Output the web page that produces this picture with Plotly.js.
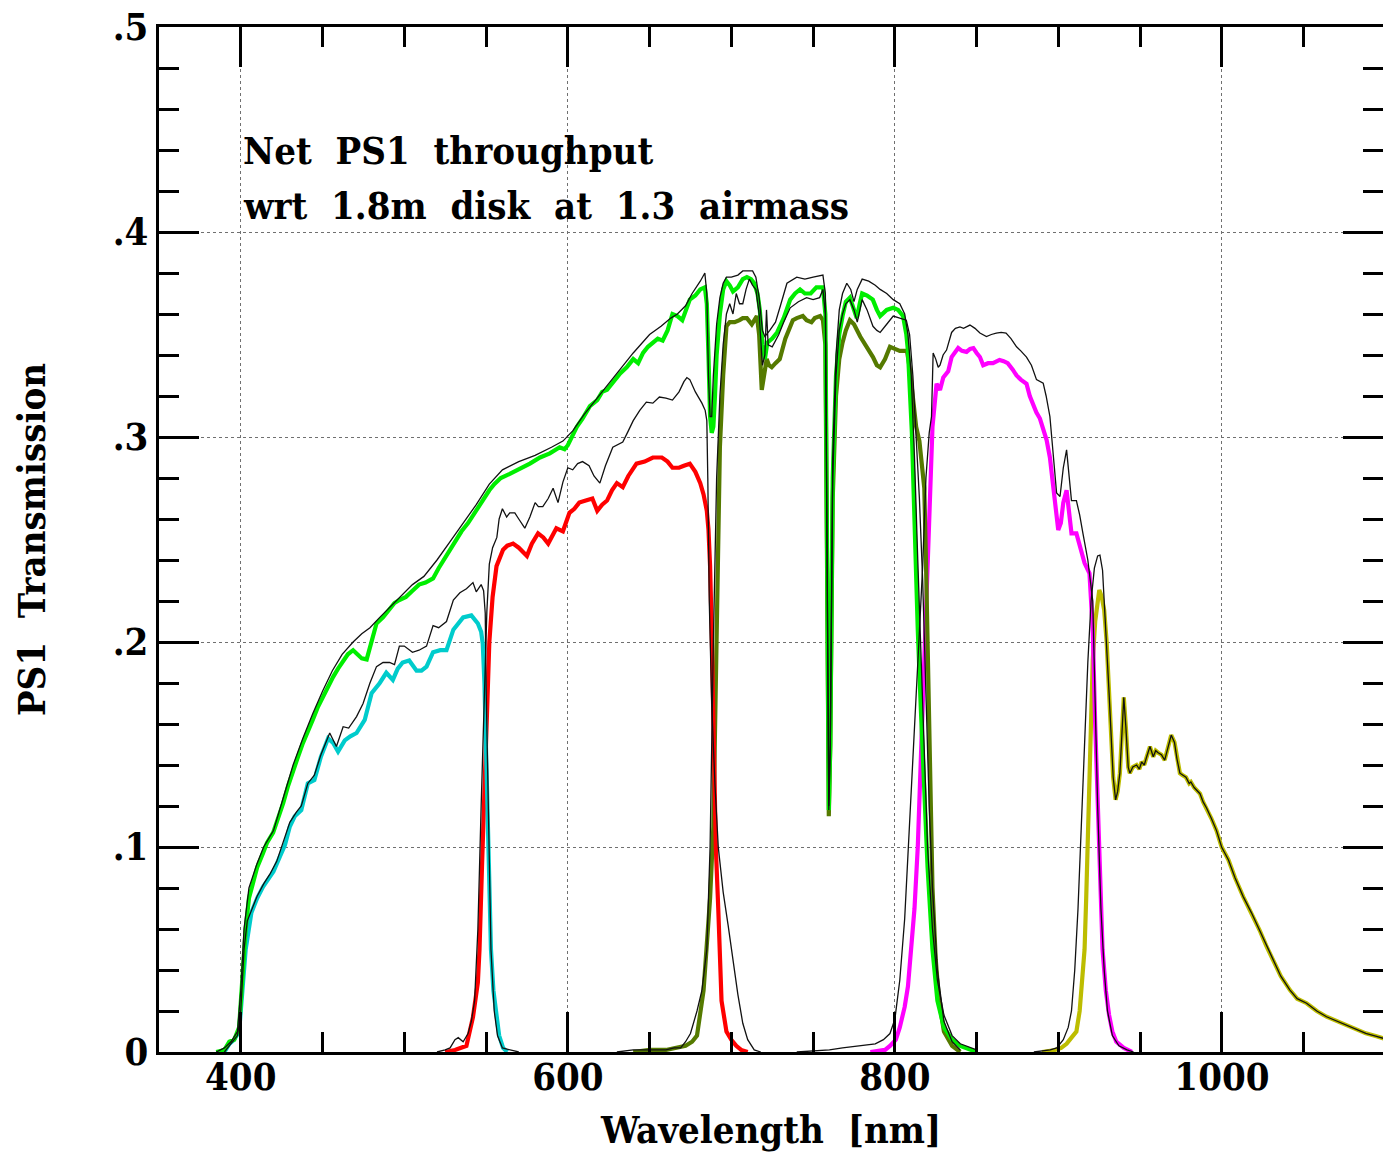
<!DOCTYPE html>
<html>
<head>
<meta charset="utf-8">
<script src="https://cdn.plot.ly/plotly-3.0.1.min.js"></script>
<style>html,body{margin:0;padding:0;background:#fff;overflow:hidden}</style>
</head>
<body>
<div id="chart" style="width:1383px;height:1152px"></div>
<script>
// ---- w band (green) ----
const wl_w = [385,390,393,396,399,401,403,405,407.5,410,413.6,416,419.8,423,426,429,432,435,438,441,444,447,450,453,456.5,459.5,462.6,465.5,468.7,471,474,477,480,483,487,491,494,497,501,505,509,513,517.6,521,524,527.8,531,535,539,543,546,550,552,555,559,564.5,570,576.8,583,589,595,598,600,605.5,609,613.5,618,621,624,628,632,636,640,643,646,649,652,655,658,661,664,667,670,672,674.6,678,681,683.8,685,686,687,688,689,690,691,693,695,697,699,701,704,707,709.5,712,714,716,717.4,719,720.5,722,725,728,732,736,739,742,745,748.5,752,756,757.5,758.5,759.6,760.5,762,764,766,768,770,772.5,774.5,776.7,778.5,780,783,786.5,789,791,795,799,802,805,807,808,810.4,812,814,816,818,820,823,826,830,835,840,850];
const t_w = [0,0.001,0.005,0.006,0.012,0.035,0.06,0.075,0.082,0.09,0.097,0.102,0.107,0.114,0.1215,0.13,0.1376,0.144,0.1507,0.156,0.162,0.168,0.173,0.178,0.183,0.187,0.191,0.194,0.196,0.194,0.192,0.1915,0.2,0.209,0.212,0.216,0.219,0.2205,0.222,0.225,0.228,0.229,0.231,0.236,0.24,0.245,0.249,0.254,0.258,0.263,0.267,0.272,0.274,0.277,0.28,0.282,0.284,0.287,0.29,0.292,0.295,0.294,0.296,0.305,0.309,0.315,0.318,0.322,0.323,0.327,0.331,0.334,0.338,0.336,0.341,0.344,0.346,0.348,0.347,0.352,0.36,0.359,0.357,0.362,0.367,0.369,0.372,0.373,0.365,0.34,0.31,0.302,0.305,0.32,0.34,0.36,0.372,0.376,0.374,0.371,0.373,0.377,0.378,0.377,0.375,0.37,0.362,0.345,0.338,0.346,0.348,0.351,0.358,0.367,0.37,0.372,0.37,0.37,0.373,0.373,0.36,0.25,0.118,0.15,0.28,0.33,0.35,0.359,0.366,0.368,0.363,0.358,0.365,0.37,0.369,0.367,0.362,0.359,0.362,0.363,0.362,0.359,0.35,0.342,0.302,0.253,0.206,0.165,0.125,0.09,0.05,0.025,0.012,0.006,0.003,0];
const wl_wBlk = [385,390,394,398,400,402,405,410,414,420,426,432,438,444,450,456,462,468.7,474,479,485,490,497,505,512,520,528,536,544,552,560,570,580,590,597,603,610,620,630,640,650,657,663,667,672,676,681,683.8,685,686,687,688,689,691,693,695,697,700,704,707,710,713,715,717,719,720.5,723.5,727,730,734,740,745,750,756,757.5,758.5,759.6,760.5,762,764,766,768,770.6,773,775,777,780,784,788,791,795,799,803,806,808,810,812,814,816,818,820,823,826,830,835,840,850];
const t_wBlk = [0,0.002,0.005,0.01,0.03,0.06,0.08,0.092,0.1,0.108,0.124,0.14,0.153,0.165,0.176,0.186,0.194,0.2,0.204,0.207,0.212,0.216,0.222,0.228,0.232,0.24,0.249,0.258,0.267,0.277,0.284,0.288,0.291,0.295,0.298,0.303,0.311,0.321,0.331,0.341,0.35,0.354,0.358,0.36,0.364,0.37,0.376,0.38,0.37,0.33,0.31,0.31,0.33,0.355,0.368,0.375,0.378,0.378,0.379,0.381,0.381,0.381,0.378,0.368,0.352,0.349,0.352,0.356,0.364,0.375,0.378,0.377,0.378,0.379,0.37,0.25,0.12,0.15,0.29,0.34,0.362,0.37,0.375,0.372,0.366,0.372,0.377,0.376,0.374,0.372,0.37,0.367,0.365,0.36,0.35,0.33,0.29,0.24,0.19,0.14,0.1,0.06,0.035,0.018,0.008,0.004,0.001];

// ---- g band (cyan) ----
const wl_g = [390,393,396,399,401,403,406.5,410,413.6,417,420,423.9,427,430,433,437,441,445,449,453.4,456.5,459.5,463.6,467,470.8,475.8,480,485,489,493,496,499,503,507.5,510.5,513.6,517.6,522,525.8,530,533,536,541,545,547,548,549,550,551,552,553,554.5,556.4,558,560.4,563];
const t_g = [0,0.004,0.006,0.01,0.03,0.05,0.068,0.075,0.0806,0.085,0.088,0.0953,0.101,0.11,0.115,0.118,0.131,0.1327,0.144,0.153,0.1507,0.1465,0.152,0.154,0.1556,0.162,0.175,0.18,0.185,0.1815,0.187,0.19,0.191,0.186,0.186,0.188,0.195,0.196,0.196,0.206,0.209,0.212,0.213,0.209,0.205,0.199,0.18,0.15,0.11,0.075,0.05,0.03,0.017,0.008,0.002,0];
const wl_gBlk = [390,394,398,400,402,404,407,410,414,418,422,426,430,434,437,441,445,449,454.4,458.5,462.6,466,470.8,474.8,479,483,487,491,494,497,500,505,509,513.6,517.6,521,525.8,530,534,538,542,544,547,548.5,549.5,550,551,552,553,555,557,560,570];
const t_gBlk = [0,0.004,0.008,0.02,0.05,0.064,0.07,0.076,0.082,0.087,0.093,0.102,0.112,0.117,0.12,0.131,0.135,0.145,0.1556,0.149,0.1587,0.158,0.1636,0.17,0.18,0.188,0.19,0.19,0.189,0.198,0.198,0.195,0.196,0.198,0.208,0.207,0.21,0.2205,0.224,0.226,0.229,0.2245,0.228,0.225,0.214,0.18,0.13,0.08,0.05,0.02,0.008,0.002,0];

// ---- r band (red) ----
const wl_r = [525,531,538,542,545,546,547.5,549,550.5,552,554,556.4,560.4,563,566.5,570,575,578,581.8,585,588,590.5,593,597,601,604,607,611,615,618,621,624,627,630,633.6,637,642,647,652,657.5,661,664,668,671,674.6,678,681,683,685,686,687,688,689,690.5,692,694,697,700,703,706,710];
const t_r = [0,0.001,0.003,0.017,0.034,0.05,0.09,0.13,0.17,0.2,0.222,0.237,0.245,0.247,0.248,0.246,0.242,0.248,0.253,0.251,0.248,0.252,0.2555,0.254,0.263,0.265,0.268,0.269,0.27,0.264,0.267,0.269,0.274,0.2775,0.2755,0.281,0.287,0.288,0.29,0.29,0.288,0.285,0.285,0.286,0.287,0.283,0.2775,0.272,0.264,0.255,0.237,0.205,0.16,0.1,0.07,0.025,0.01,0.006,0.003,0.001,0];
const wl_rBlk = [520,525,528,531,533,536,539,541,543,545,547,549,550.5,552,554,556.6,558,560,562.6,564.5,567.6,570,573.7,576.8,580,582,584.7,588,591,594,597,600,603,606,609,613,616,619.6,623,627.5,630,633.6,637,640,644,648,652,656,660,664,668,671,672.8,674.6,678,682,684,685,685.6,686.5,688,690,692,695,698,701,704,707,710,714,718];
const t_rBlk = [0,0.001,0.002,0.006,0.007,0.005,0.009,0.015,0.025,0.06,0.12,0.18,0.215,0.238,0.246,0.251,0.26,0.265,0.261,0.263,0.263,0.26,0.2555,0.261,0.268,0.266,0.266,0.27,0.275,0.268,0.278,0.285,0.284,0.287,0.288,0.286,0.281,0.2775,0.286,0.295,0.296,0.2975,0.303,0.308,0.313,0.317,0.3165,0.3195,0.319,0.318,0.322,0.327,0.329,0.328,0.322,0.3165,0.313,0.308,0.28,0.22,0.17,0.13,0.1,0.078,0.062,0.045,0.028,0.014,0.006,0.001,0];

// ---- i band (olive) ----
const wl_i = [640,650,660,668,672,676,679,683,685,687,689,691,693,695,697,699,702,705,707,709.5,712.5,715.6,717,718.6,720,721.6,723,724.7,727,729.6,733,737.6,740,743.7,746,749,751,754.3,756,757.5,758.5,759.6,760.5,762,764,766,768,770,772.5,775,778.8,782,786.6,789,791,794,797,800,803,805,807.4,809,811,813,815,817,818,819,820,821,822,823,825,827,830,835,840];
const t_i = [0,0.001,0.001,0.002,0.003,0.005,0.008,0.03,0.05,0.075,0.11,0.2,0.295,0.33,0.354,0.356,0.356,0.357,0.358,0.358,0.355,0.359,0.35,0.323,0.33,0.338,0.335,0.334,0.336,0.338,0.348,0.357,0.358,0.359,0.357,0.356,0.358,0.359,0.357,0.345,0.24,0.115,0.15,0.27,0.32,0.338,0.346,0.352,0.357,0.355,0.349,0.345,0.339,0.335,0.334,0.338,0.344,0.343,0.342,0.342,0.342,0.334,0.318,0.305,0.298,0.285,0.275,0.24,0.2,0.15,0.11,0.08,0.045,0.025,0.01,0.003,0];
const wl_iBlk = [630,640,650,660,665,669,672,675,679,682,685,687,689,691,693,695,697,699,701,703,705,707,709,711,713,715,717,719,720.5,721.5,722.5,725,729,732,736,741,746,750,754,756,757.5,758.5,759.6,760.5,762,764,766,768,770,772.5,775,777,780,783,786.6,789,791,795,799,803,807,809,811,813,815,817,819,821,823,826,830,835,840];
const t_iBlk = [0,0.001,0.001,0.001,0.002,0.002,0.005,0.009,0.02,0.03,0.05,0.1,0.2,0.28,0.32,0.345,0.36,0.365,0.36,0.37,0.365,0.365,0.372,0.377,0.374,0.372,0.36,0.335,0.34,0.362,0.345,0.344,0.35,0.356,0.363,0.366,0.368,0.367,0.368,0.372,0.36,0.25,0.118,0.15,0.28,0.33,0.352,0.36,0.365,0.367,0.362,0.356,0.367,0.362,0.354,0.352,0.351,0.355,0.359,0.358,0.357,0.35,0.33,0.3,0.27,0.23,0.17,0.12,0.08,0.04,0.015,0.005,0.001];

// ---- z band (magenta) ----
const wl_z = [785,794,797,800.6,803,806,808,810,812,814,816,818,819.4,820.5,821.4,823,825.5,827.6,829.6,832.6,834.7,838.7,841,843.8,846,848,850,852,854,857,860,864,866.5,869,872,874.4,877,880.5,882.5,884.6,886.5,888.7,890.5,892.8,894.8,896.8,898.5,899.9,901.5,903,905,906.5,908,911,913.5,916,919,921,922.5,924,925.5,927,929,931,933,935.4,940,945];
const t_z = [0,0.001,0.003,0.006,0.012,0.022,0.032,0.05,0.07,0.1,0.145,0.19,0.215,0.245,0.269,0.305,0.326,0.323,0.329,0.332,0.339,0.3434,0.342,0.3415,0.343,0.3434,0.341,0.339,0.335,0.336,0.336,0.3376,0.337,0.336,0.333,0.33,0.328,0.326,0.32,0.315,0.312,0.309,0.305,0.2985,0.29,0.2756,0.262,0.2546,0.258,0.268,0.274,0.265,0.253,0.253,0.245,0.2385,0.2335,0.206,0.16,0.12,0.085,0.05,0.03,0.018,0.01,0.005,0.002,0];
const wl_zBlk = [740,752,760,768,780,788,793,797,800,803,806,809,812,815,817,819,821,822.4,823.4,825,826.5,827.6,829.5,831.6,834.7,837,839.8,842,845.9,849,852,856,859,862,865,868,871,874.4,877,880.5,883.5,886.6,890.7,892.5,894.8,897,898.9,901,903,905,906.5,908,911,913,915,918,919.5,921,922.5,924,926,928,930,933,937,942,946];
const t_zBlk = [0,0.0005,0.001,0.002,0.003,0.004,0.006,0.009,0.016,0.035,0.065,0.11,0.16,0.205,0.237,0.28,0.302,0.31,0.341,0.338,0.334,0.335,0.34,0.3424,0.351,0.353,0.3537,0.353,0.3546,0.353,0.3507,0.349,0.35,0.3507,0.351,0.3507,0.348,0.344,0.342,0.339,0.335,0.328,0.3263,0.32,0.31,0.29,0.2727,0.271,0.285,0.2937,0.28,0.269,0.269,0.262,0.253,0.24,0.23,0.22,0.17,0.12,0.07,0.04,0.02,0.008,0.003,0.001,0];

// ---- y band (yellow) ----
const wl_y = [890,898,901.7,905,908,911,913,914.5,916,917,918,919,920,921,922.5,924,925,926.5,928,929.5,931,932,933.5,935,936.2,937.6,938.8,940,941.3,942.7,943.7,945.5,947.8,949.5,950.9,952.5,954,956,958,959.5,961,963,965,967,969,971,972.5,974.3,976,978,980,981,983,986.6,988.5,990.6,993.5,996.7,999.8,1004,1008,1013,1018,1023,1027,1031.5,1036,1041.6,1046,1051.8,1058,1064,1070,1076,1082,1088,1094,1099];
const t_y = [0,0.001,0.002,0.004,0.007,0.01,0.02,0.035,0.05,0.075,0.1,0.13,0.16,0.191,0.21,0.222,0.2254,0.222,0.2156,0.2,0.175,0.155,0.134,0.123,0.127,0.136,0.155,0.173,0.158,0.139,0.136,0.139,0.14,0.138,0.1415,0.14,0.144,0.149,0.144,0.147,0.146,0.145,0.1424,0.149,0.1546,0.151,0.143,0.136,0.135,0.134,0.131,0.1317,0.129,0.126,0.122,0.119,0.114,0.108,0.1,0.0937,0.085,0.0758,0.068,0.0595,0.052,0.0449,0.037,0.0302,0.026,0.0238,0.02,0.0172,0.0152,0.0132,0.011,0.0091,0.0078,0.0066];
const wl_yBlkHead = [885,895,899,903,906,908,910,912,914,916,918,920,922,924,925.4,927,928.5,930];
const t_yBlkHead = [0,0.001,0.002,0.006,0.012,0.02,0.04,0.07,0.11,0.15,0.19,0.22,0.236,0.242,0.2424,0.235,0.215,0.19];

// ---- axis ticks and text ----
const xTickVals = [400,600,800,1000];
const xTickText = ['400','600','800','1000'];
const yTickVals = [0,0.1,0.2,0.3,0.4,0.5];
const yTickText = ['0','.1','.2','.3','.4','.5'];
const note1 = 'Net\u00a0 PS1\u00a0 throughput';
const note2 = 'wrt\u00a0 1.8m\u00a0 disk\u00a0 at\u00a0 1.3\u00a0 airmass';

// black y-band line: its own head, then the yellow curve's tail
const yTailStart = wl_y.findIndex(v => v > 930);
const wl_yBlk = wl_yBlkHead.concat(wl_y.slice(yTailStart));
const t_yBlk = t_yBlkHead.concat(t_y.slice(yTailStart));

const FONT = '"DejaVu Serif Condensed", "DejaVu Serif", serif';
const W = 'bold';
const thick = 4.2, thin = 1.3, blk = '#111';
function tr(x, y, color, w) {
  return {type:'scatter', mode:'lines', x:x, y:y, line:{color:color, width:w}, hoverinfo:'skip', showlegend:false};
}
const traces = [
  tr(wl_y, t_y, '#bdbd00', thick),
  tr(wl_z, t_z, '#ff00ff', thick),
  tr(wl_i, t_i, '#557a00', thick),
  tr(wl_r, t_r, '#ff0000', thick),
  tr(wl_g, t_g, '#00cccc', thick),
  tr(wl_w, t_w, '#00ee00', thick),
  tr(wl_wBlk, t_wBlk, blk, thin),
  tr(wl_gBlk, t_gBlk, blk, thin),
  tr(wl_rBlk, t_rBlk, blk, thin),
  tr(wl_iBlk, t_iBlk, blk, thin),
  tr(wl_zBlk, t_zBlk, blk, thin),
  tr(wl_yBlk, t_yBlk, blk, thin)
];

const fnt = {family:FONT, size:38, color:'black', weight:W};
const axisCommon = {
  showline:true, linecolor:'black', linewidth:3, mirror:'allticks',
  ticks:'inside', ticklen:40, tickwidth:3, tickcolor:'black',
  showgrid:true, gridcolor:'#707070', gridwidth:1, griddash:'dot',
  zeroline:false, tickfont:fnt
};

const layout = {
  width:1383, height:1152,
  margin:{l:159, r:0, t:27, b:100},
  paper_bgcolor:'white', plot_bgcolor:'white',
  font:{family:FONT, color:'black'},
  xaxis: Object.assign({}, axisCommon, {
    range:[350, 1098.5], tickmode:'array', tickvals:xTickVals, ticktext:xTickText,
    minor:{dtick:50, tick0:400, ticklen:20, tickwidth:3, tickcolor:'black', ticks:'inside', showgrid:false},
    ticklabelstandoff:-11,
    title:{text:'Wavelength\u00a0 [nm]', font:fnt, standoff:20}
  }),
  yaxis: Object.assign({}, axisCommon, {
    range:[0, 0.5], tickmode:'array', tickvals:yTickVals, ticktext:yTickText,
    minor:{dtick:0.02, tick0:0, ticklen:20, tickwidth:3, tickcolor:'black', ticks:'inside', showgrid:false},
    ticklabelstandoff:0,
    title:{text:'PS1\u00a0 Transmission', font:fnt, standoff:56}
  }),
  annotations:[
    {x:400, y:0.4398, xref:'x', yref:'y', xanchor:'left', yanchor:'middle', showarrow:false, text:note1, font:fnt},
    {x:400, y:0.4129, xref:'x', yref:'y', xanchor:'left', yanchor:'middle', showarrow:false, text:note2, font:fnt}
  ]
};

Plotly.newPlot('chart', traces, layout, {displayModeBar:false, staticPlot:true});
</script>
</body>
</html>
